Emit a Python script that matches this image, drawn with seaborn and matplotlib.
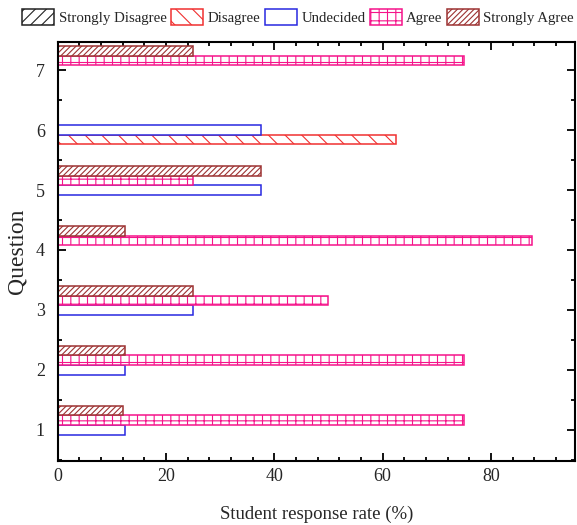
import matplotlib
matplotlib.use("Agg")
import matplotlib.pyplot as plt
import matplotlib.patches as mpatches
from matplotlib.ticker import MultipleLocator
import seaborn as sns
import pandas as pd

# values (missing bars simply left out)
responses = ["Strongly Disagree", "Disagree", "Undecided", "Agree", "Strongly Agree"]
questions = [1, 2, 3, 4, 5, 6, 7]
undecided = {1: 12.5, 2: 12.5, 3: 25, 5: 37.5, 6: 37.5}
disagree = {6: 62.5}
agree = {1: 75, 2: 75, 3: 50, 4: 87.5, 5: 25, 7: 75}
strongly_agree = {1: 12, 2: 12.5, 3: 25, 4: 12.5, 5: 37.5, 7: 25}

colors = {"Strongly Disagree": "#222222", "Disagree": "#f03030", "Undecided": "#2828e0",
          "Agree": "#f5148a", "Strongly Agree": "#9c3232"}
hatches = {"Strongly Disagree": "///", "Disagree": "\\\\", "Undecided": "",
           "Agree": "++", "Strongly Agree": "//////"}

rows = []
for resp, vals in [("Disagree", disagree), ("Undecided", undecided),
                   ("Agree", agree), ("Strongly Agree", strongly_agree)]:
    for q, v in vals.items():
        rows.append({"question": q, "rate": v, "response": resp})
df = pd.DataFrame(rows)

sns.set_style("ticks")
plt.rcParams["font.family"] = ["Liberation Serif", "DejaVu Serif"]
plt.rcParams["hatch.linewidth"] = 0.8

fig = plt.figure(figsize=(5.77, 5.25), dpi=100)
ax = fig.add_axes([0.0997, 0.122, 0.8968, 0.798])

sns.barplot(data=df, x="rate", y="question", hue="response", hue_order=responses,
            orient="h", native_scale=True, width=0.8, fill=False,
            palette=colors, ax=ax, legend=False)

# white fill + coloured hatch per response level
col_to_resp = {matplotlib.colors.to_hex(c): r for r, c in colors.items()}
for p in ax.patches:
    ec = matplotlib.colors.to_hex(p.get_edgecolor())
    resp = col_to_resp.get(ec)
    if resp is None:
        continue
    p.set_facecolor("white")
    p.set_edgecolor(colors[resp])
    p.set_hatch(hatches[resp])
    p.set_linewidth(1.1)

ax.set_xlim(0, 95.5)
ax.set_ylim(0.48, 7.47)
ax.set_yticks(questions)
ax.xaxis.set_major_locator(MultipleLocator(20))
ax.xaxis.set_minor_locator(MultipleLocator(4))
ax.yaxis.set_minor_locator(MultipleLocator(0.5))
ax.tick_params(which="both", direction="in", top=True, right=True, width=1.3,
               labelsize=13, color="black")
ax.tick_params(which="major", length=6)
ax.tick_params(which="minor", length=3)
ax.tick_params(axis="y", which="major", pad=9)
ax.tick_params(axis="x", which="major", pad=5)
for s in ax.spines.values():
    s.set_linewidth(1.5)
    s.set_color("black")

ax.set_xlabel("Student response rate (%)", fontsize=13.5, labelpad=15)
ax.set_ylabel("Question", fontsize=17, labelpad=6)

handles = [mpatches.Patch(facecolor="white", edgecolor=colors[r], hatch=hatches[r],
                          linewidth=1.1, label=r) for r in responses]
fig.legend(handles=handles, loc="center", bbox_to_anchor=(0.517, 0.967), ncol=5,
           frameon=False, fontsize=10.7, handlelength=2.15, handleheight=1.25,
           handletextpad=0.3, columnspacing=0.3, borderaxespad=0, borderpad=0)

fig.savefig("out.png", dpi=100)
